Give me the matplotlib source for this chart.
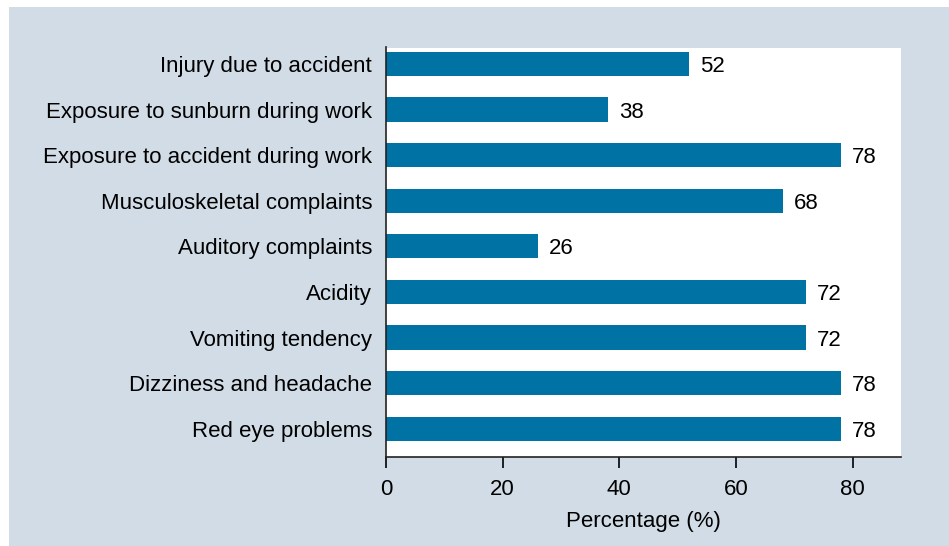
import matplotlib

matplotlib.use("Agg")
import matplotlib.pyplot as plt
from matplotlib.patches import Rectangle

categories = [
    "Injury due to accident",
    "Exposure to sunburn during work",
    "Exposure to accident during work",
    "Musculoskeletal complaints",
    "Auditory complaints",
    "Acidity",
    "Vomiting tendency",
    "Dizziness and headache",
    "Red eye problems",
]
values = [52, 38, 78, 68, 26, 72, 72, 78, 78]
xticks = [0, 20, 40, 60, 80]

BG = "#d1dce6"
BAR = "#0072a3"
FS = 16

plt.rcParams["font.family"] = ["Liberation Sans", "DejaVu Sans"]

fig = plt.figure(figsize=(9.49, 5.46), dpi=100, facecolor="white")
fig.patches.append(
    Rectangle((9 / 949, 0), 1, 1 - 7 / 546, transform=fig.transFigure,
              facecolor=BG, edgecolor="none", zorder=-10)
)

ax = fig.add_axes([386 / 949, (546 - 457) / 546, (900.5 - 386) / 949, (457 - 47.5) / 546])
ax.set_facecolor("white")

pos = list(range(len(categories)))
bars = ax.barh(pos, values, height=0.53, color=BAR)
for t in ax.bar_label(bars, labels=[str(v) for v in values], padding=8, fontsize=FS):
    t.set_va("center_baseline")

ax.set_yticks(pos)
ax.set_yticklabels(categories, fontsize=FS)
ax.set_ylim(8.62, -0.36)
ax.set_xlim(0, 88.2)
ax.set_xticks(xticks)
ax.tick_params(axis="y", length=0, pad=10)
ax.tick_params(axis="x", length=8, width=1.2, direction="out", pad=8, labelsize=FS)
ax.set_xlabel("Percentage (%)", fontsize=FS, labelpad=8)

for side in ["top", "right"]:
    ax.spines[side].set_visible(False)
for side in ["left", "bottom"]:
    ax.spines[side].set_linewidth(1.2)
    ax.spines[side].set_color("#222222")

fig.savefig("out.png", dpi=100, facecolor=fig.get_facecolor())
